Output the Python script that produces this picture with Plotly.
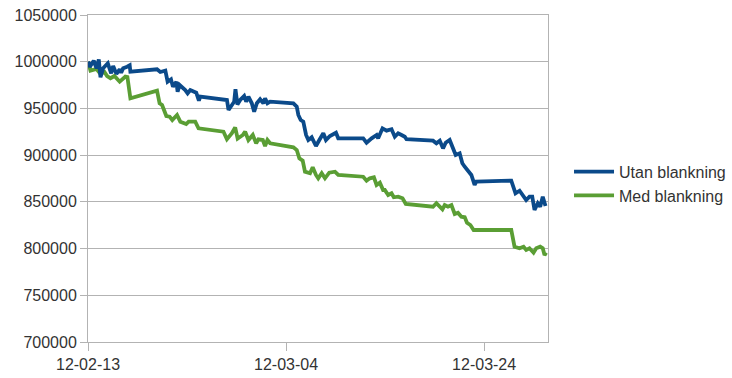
import pandas as pd
import plotly.graph_objects as go

# Portfolio value over time, two strategies.
startdatum = "2012-02-13"

# Time since start (days) and portfolio value, "Utan blankning"
utan_dagar = [0, 0.18, 0.58, 0.86, 1.09, 1.26, 1.53, 2.0, 2.34, 2.54, 2.87, 3.2, 3.35, 3.55, 3.95,
              4.21, 4.28, 6.97, 7.30, 7.81, 8.04, 8.38, 8.58, 8.92, 9.05, 9.25, 9.82, 10.06, 10.33,
              10.93, 11.2, 11.33, 14.03, 14.19, 14.76, 14.89, 15.09, 15.37, 15.77, 15.97, 16.2,
              16.54, 16.78, 17.05, 17.38, 17.71, 17.88, 18.12, 18.39, 20.74, 21.08, 21.24, 21.48,
              21.74, 22.02, 22.25, 22.59, 23.02, 23.36, 23.76, 24.03, 24.43, 25.04, 25.27, 27.79,
              28.13, 28.64, 29.14, 29.3, 29.74, 30.15, 30.65, 30.98, 31.32, 31.66, 31.99, 32.16,
              34.84, 35.18, 35.52, 35.85, 36.12, 36.52, 36.86, 37.13, 37.53, 37.8, 38.04, 38.37,
              38.71, 39.04, 39.21, 42.74, 42.9, 43.17, 43.58, 43.91, 44.25, 44.58, 44.86, 45.09,
              45.42, 45.66, 45.92, 46.2]
utan_varde = [1000000, 994500, 1001000, 993000, 1002500, 983300, 993000, 998300, 987600, 995400,
              987000, 991900, 988300, 993000, 994700, 996200, 989300, 991900, 989000, 990400,
              978600, 981200, 973300, 978600, 967900, 975100, 969700, 966200, 969700, 966800,
              958300, 962600, 959000, 948300, 957200, 970500, 954200, 959000, 963300, 957200,
              962600, 955500, 946500, 955500, 959800, 955500, 960800, 955500, 957200, 955500,
              951900, 943000, 937600, 935800, 921600, 916200, 919100, 909800, 916200, 923400,
              916200, 920500, 924000, 918000, 918000, 913300, 918000, 921600, 918000, 928700,
              926200, 927700, 919700, 923400, 921600, 919700, 917000, 915500, 912700, 915500,
              907300, 913300, 916200, 908400, 900200, 902000, 891300, 887600, 883400, 878800,
              868100, 871600, 872700, 866200, 859200, 861900, 857300, 852000, 855500, 855500,
              841300, 848500, 844800, 855500, 845600]

# Time since start (days) and portfolio value, "Med blankning"
med_dagar = [0, 0.25, 0.86, 1.26, 1.66, 1.93, 2.27, 2.67, 3.2, 3.55, 3.78, 3.98, 4.28, 6.97, 7.23,
             7.48, 7.91, 8.24, 8.51, 8.99, 9.32, 9.92, 10.16, 10.83, 11.16, 13.68, 14.03, 14.53,
             14.86, 15.11, 15.64, 15.87, 16.2, 16.64, 16.98, 17.21, 17.65, 17.88, 18.12, 18.39,
             20.74, 21.08, 21.34, 21.68, 21.91, 22.42, 22.69, 23.02, 23.25, 23.6, 23.93, 24.36,
             24.94, 25.27, 27.79, 28.13, 28.46, 28.87, 29.14, 29.47, 29.8, 29.97, 30.31, 30.65,
             30.88, 31.32, 31.76, 32.09, 34.84, 35.18, 35.52, 35.79, 36.02, 36.35, 36.7, 37.03,
             37.36, 37.7, 38.04, 38.27, 38.61, 38.94, 39.21, 42.74, 43.07, 43.58, 43.98, 44.25,
             44.58, 44.99, 45.26, 45.66, 45.92, 46.1, 46.27]
med_varde = [1000000, 990400, 992200, 986900, 989000, 984700, 982300, 984700, 978600, 982300,
             984000, 983600, 960800, 969000, 955500, 953700, 941900, 941200, 937600, 943000,
             935800, 933300, 935800, 935800, 928700, 925100, 917000, 923400, 929800, 917800,
             921600, 925100, 916200, 921600, 912700, 917000, 916200, 909800, 916200, 912700,
             908400, 905500, 896600, 894100, 882300, 880600, 887000, 878800, 875200, 880600,
             875200, 881200, 882300, 878800, 876900, 872700, 875200, 876300, 868100, 870500,
             862700, 862700, 857300, 859200, 854900, 855500, 853800, 847700, 844800, 848500,
             845600, 842000, 846600, 844800, 846600, 837000, 838400, 834100, 833500, 827700,
             825200, 819900, 819900, 819900, 802000, 800300, 802000, 798500, 800300, 795600,
             800300, 802000, 800300, 793100, 795600]

y_tickvarden = [700000, 750000, 800000, 850000, 900000, 950000, 1000000, 1050000]

start = pd.Timestamp(startdatum)
def till_tid(dagar):
    return [start + pd.Timedelta(days=d) for d in dagar]

BLA = "#0b4a8a"
GRON = "#5a9e34"
GRID = "#b3b3b3"
TEXT = "#333333"

fig = go.Figure()
# green first so the blue line is drawn on top
fig.add_trace(go.Scatter(x=till_tid(med_dagar), y=med_varde, mode="lines",
                         name="Med blankning", legendgroup="b",
                         line=dict(color=GRON, width=3.8)))
fig.add_trace(go.Scatter(x=till_tid(utan_dagar), y=utan_varde, mode="lines",
                         name="Utan blankning", legendgroup="a",
                         line=dict(color=BLA, width=3.8)))

fig.update_layout(
    width=732, height=378,
    margin=dict(l=88, r=184, t=15, b=36, autoexpand=False),
    paper_bgcolor="white", plot_bgcolor="white",
    font=dict(family="Liberation Sans, Arial, sans-serif", size=16, color=TEXT),
    showlegend=True,
    legend=dict(x=1.0457, xanchor="left", y=0.484, yanchor="middle",
                traceorder="reversed", tracegroupgap=9, itemwidth=40,
                font=dict(size=16, color=TEXT), bgcolor="rgba(0,0,0,0)"),
)
fig.update_xaxes(
    type="date", automargin=False,
    range=[start, start + pd.Timedelta(days=46.45)],
    tick0=start, dtick=20 * 86400000, tickformat="%y-%m-%d",
    showgrid=False, showline=True, linecolor=GRID, linewidth=1, mirror=True,
    ticks="outside", ticklen=8, tickcolor=GRID, zeroline=False,
)
fig.update_yaxes(
    range=[700000, 1050000], tickvals=y_tickvarden, tickformat="d", automargin=False,
    showgrid=True, gridcolor=GRID, gridwidth=1,
    showline=True, linecolor=GRID, linewidth=1, mirror=True,
    ticks="outside", ticklen=7, tickcolor=GRID, zeroline=False,
)

fig.write_html("out.html")
